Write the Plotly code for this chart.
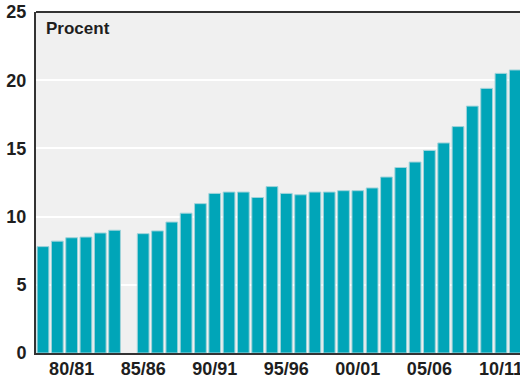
import plotly.graph_objects as go

years = ["78/79","79/80","80/81","81/82","82/83","83/84","84/85","85/86","86/87","87/88",
         "88/89","89/90","90/91","91/92","92/93","93/94","94/95","95/96","96/97","97/98",
         "98/99","99/00","00/01","01/02","02/03","03/04","04/05","05/06","06/07","07/08",
         "08/09","09/10","10/11","11/12"]
values = [7.8, 8.2, 8.45, 8.5, 8.8, 9.0, None, 8.75, 8.95, 9.6,
          10.25, 10.95, 11.7, 11.8, 11.8, 11.4, 12.2, 11.7, 11.6, 11.8,
          11.8, 11.9, 11.9, 12.1, 12.9, 13.6, 14.0, 14.85, 15.4, 16.6,
          18.1, 19.4, 20.5, 20.75]
tick_labels = ["80/81", "85/86", "90/91", "95/96", "00/01", "05/06", "10/11"]
y_ticks = [0, 5, 10, 15, 20, 25]

idx = list(range(len(years)))
tick_pos = [years.index(t) for t in tick_labels]

fig = go.Figure(go.Bar(
    x=idx, y=values,
    marker=dict(color="#00a5b8", line=dict(color="#9fd3da", width=1)),
    width=0.82,
))

font = dict(family="Liberation Sans, Arial, sans-serif", size=18, color="#1e1e1e", weight="bold")

# figure is drawn wider than the window so the chart is cropped at the right edge like the original
fig.update_layout(
    width=540, height=378,
    margin=dict(l=36, r=0, t=12, b=25, autoexpand=False),
    paper_bgcolor="white",
    plot_bgcolor="#f0f0f0",
    showlegend=False,
    font=font,
    xaxis=dict(
        range=[-0.49, 34.73], automargin=False,
        tickmode="array", tickvals=tick_pos, ticktext=tick_labels,
        showgrid=False, zeroline=False,
        showline=True, linecolor="#333333", linewidth=2,
        ticks="", tickfont=font, ticklabelstandoff=-2,
    ),
    yaxis=dict(
        range=[0, 25], automargin=False,
        tickmode="array", tickvals=y_ticks,
        showgrid=True, gridcolor="white", gridwidth=2,
        zeroline=False,
        showline=True, linecolor="#333333", linewidth=2,
        ticks="", tickfont=font, ticklabelstandoff=4,
    ),
    shapes=[dict(type="line", xref="paper", yref="paper", x0=0, x1=1, y0=1, y1=1,
                 line=dict(color="#333333", width=2))],
    annotations=[dict(text="Procent", xref="paper", yref="paper", x=0.016, y=0.985,
                      xanchor="left", yanchor="top", showarrow=False,
                      font=dict(family="Liberation Sans, Arial, sans-serif", size=17,
                                color="#1e1e1e", weight="bold"))],
)

fig.write_html("out.html", config={"displayModeBar": False, "staticPlot": True},
               post_script="document.body.style.margin='0';document.body.style.overflow='hidden';")
